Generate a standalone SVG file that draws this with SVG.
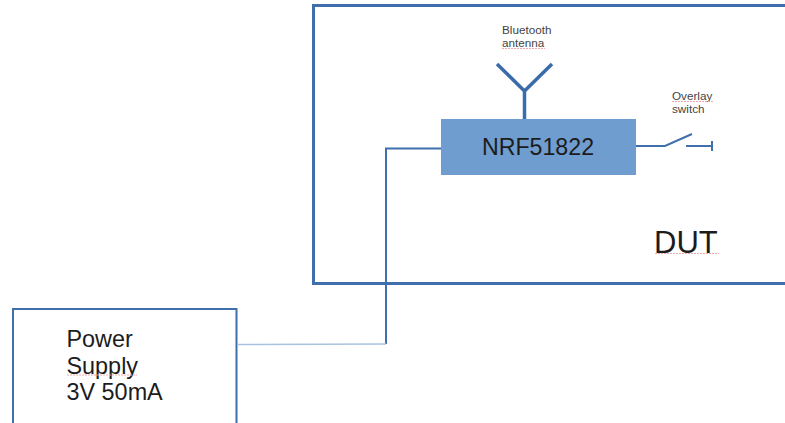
<svg xmlns="http://www.w3.org/2000/svg" width="785" height="423" viewBox="0 0 785 423">
<style>
text{font-family:"Liberation Sans",Arial,sans-serif;fill:#1c1c1c}
.small{font-size:11.7px;fill:#444}
.big{font-size:23.4px}
.line{fill:none;stroke:#3f6fad;stroke-width:2}
.sq{fill:none;stroke:#eeaaaa;stroke-width:1;stroke-dasharray:2 1}
</style>
<rect width="785" height="423" fill="#fff"/>
<g id="dut">
<path d="M790 5.500H313.500V283.500H790" fill="none" stroke="#3f6fad" stroke-width="3"/>
<text x="654" y="252.500" font-size="31">DUT</text>
<path class="sq" d="M655 253.500H719"/>
</g>
<g id="power-supply">
<path d="M13 430V309H236.500V430" fill="none" stroke="#3f6fad" stroke-width="2"/>
<text class="big" x="66.500" y="347">Power</text>
<text class="big" x="66.500" y="373.500">Supply</text>
<text class="big" x="66.500" y="400">3V 50mA</text>
<path class="sq" d="M67 375H137"/>
</g>
<g id="nrf51822">
<rect x="441" y="119" width="195" height="56" fill="#6f9dcf"/>
<text x="538" y="155" font-size="23.200" text-anchor="middle">NRF51822</text>
</g>
<g id="antenna">
<path d="M497 64L524.500 91L552 64M524.500 91V119" fill="none" stroke="#3a6cab" stroke-width="3.500"/>
<text class="small" x="502" y="34">Bluetooth</text>
<text class="small" x="502" y="47">antenna</text>
<path class="sq" d="M502 48.500H545"/>
</g>
<g id="overlay-switch">
<text class="small" x="672" y="100">Overlay</text>
<text class="small" x="672" y="113">switch</text>
<path class="sq" d="M672 101.500H713"/>
</g>
<g id="connectors">
<path class="line" d="M441 148.500H386V344"/>
<path d="M237 344.500L386 344" fill="none" stroke="#a9c2e0" stroke-width="1.500"/>
<path class="line" d="M636 146H665L692 134M686 146H712"/>
<path class="line" d="M712 141V151"/>
</g>
</svg>
